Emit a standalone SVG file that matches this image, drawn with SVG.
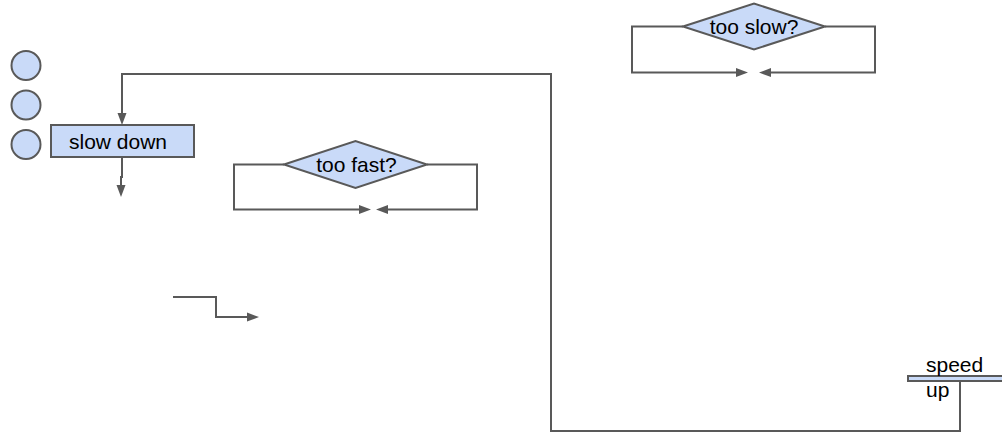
<svg xmlns="http://www.w3.org/2000/svg" width="1002" height="435" viewBox="0 0 1002 435">
  <style>
    .shape { fill: #c9daf8; stroke: #595959; stroke-width: 2; }
    .wire { fill: none; stroke: #595959; stroke-width: 2; }
    .label { font-family: "Liberation Sans", Arial, sans-serif; font-size: 21px; fill: #000000; }
  </style>
  <defs>
    <marker id="arrow" markerUnits="userSpaceOnUse" markerWidth="12" markerHeight="10" viewBox="0 0 12 10" refX="1" refY="5" orient="auto">
      <path d="M0,0.5 L12,5 L0,9.5 Z" fill="#595959"/>
    </marker>
  </defs>
  <rect width="1002" height="435" fill="#ffffff"/>

  <g id="connectors">
    <!-- speed up back to slow down -->
    <path class="wire" d="M960,381 V431 H551 V74 H122 V114" marker-end="url(#arrow)"/>
    <!-- out of slow down -->
    <path class="wire" d="M122,157 V177 H121 V186" marker-end="url(#arrow)"/>
    <!-- too fast loops -->
    <path class="wire" d="M284,164.5 H234 V209.5 H360" marker-end="url(#arrow)"/>
    <path class="wire" d="M427,164.5 H477 V209.5 H387" marker-end="url(#arrow)"/>
    <!-- too slow loops -->
    <path class="wire" d="M683,26.5 H632 V72.5 H737" marker-end="url(#arrow)"/>
    <path class="wire" d="M825,26.5 H875 V72.5 H770" marker-end="url(#arrow)"/>
    <!-- stepped connector -->
    <path class="wire" d="M173,297 H216 V317 H248" marker-end="url(#arrow)"/>
  </g>

  <g id="circle-1"><circle class="shape" cx="26" cy="65.5" r="14.5"/></g>
  <g id="circle-2"><circle class="shape" cx="26" cy="105" r="14.5"/></g>
  <g id="circle-3"><circle class="shape" cx="26" cy="144.5" r="14.5"/></g>

  <g id="slow-down">
    <rect class="shape" x="51" y="125" width="143" height="32"/>
    <text class="label" x="118" y="148.5" text-anchor="middle">slow down</text>
  </g>

  <g id="too-fast">
    <polygon class="shape" points="284,164.5 355.5,141 427,164.5 355.5,188"/>
    <text class="label" x="356.5" y="171.5" text-anchor="middle">too fast?</text>
  </g>

  <g id="too-slow">
    <polygon class="shape" points="683,26.5 754,3.5 825,26.5 754,49.5"/>
    <text class="label" x="754" y="33.5" text-anchor="middle">too slow?</text>
  </g>

  <g id="speed-up">
    <rect class="shape" x="908" y="376" width="100" height="5" stroke-width="1.5"/>
    <text class="label" x="926" y="372">speed</text>
    <text class="label" x="926" y="397">up</text>
  </g>
</svg>
